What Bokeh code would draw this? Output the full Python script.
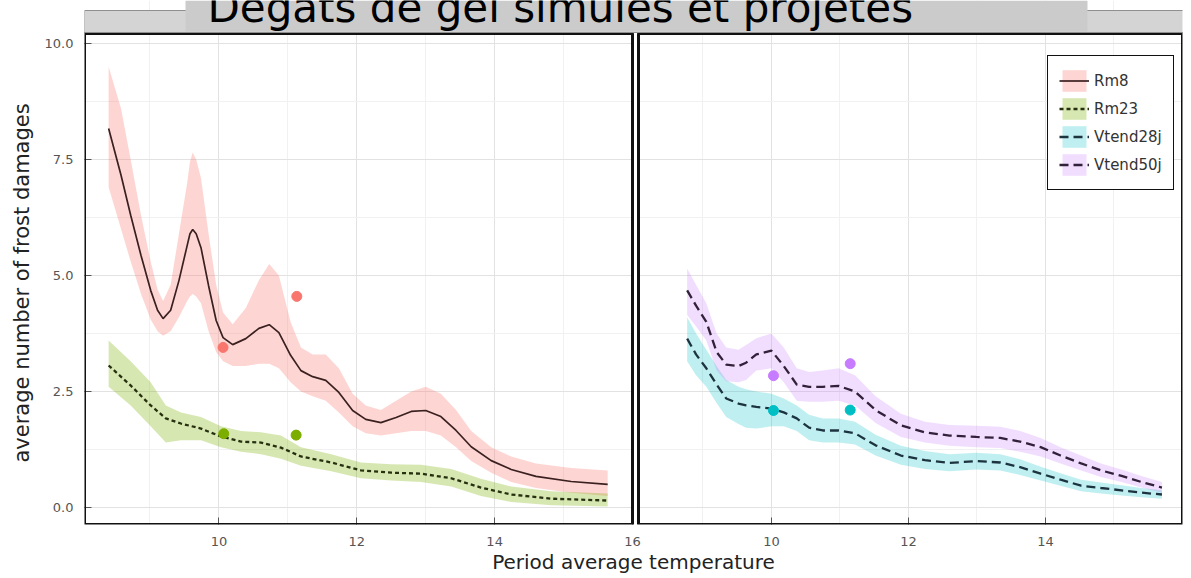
import math
from bokeh.plotting import figure
from bokeh.models import (Range1d, LinearAxis, FixedTicker, Grid, BoxAnnotation, Label,
                          Legend, LegendItem, PrintfTickFormatter, Title)
from bokeh.embed import file_html
from bokeh.resources import INLINE

# ---------------- data ----------------
rm8_t = [8.40, 8.58, 8.72, 8.87, 9.01, 9.11, 9.19, 9.30, 9.42, 9.54, 9.58, 9.62, 9.67, 9.74,
         9.85, 9.96, 10.06, 10.20, 10.39, 10.58, 10.73, 10.87, 11.04, 11.19, 11.36, 11.55,
         11.74, 11.94, 12.13, 12.35, 12.57, 12.79, 13.00, 13.22, 13.44, 13.66, 13.95, 14.24,
         14.60, 15.11, 15.64]
rm8_mean = [8.17, 7.16, 6.30, 5.43, 4.68, 4.25, 4.07, 4.25, 4.89, 5.65, 5.90, 5.99, 5.90, 5.60,
            4.78, 4.03, 3.66, 3.51, 3.64, 3.86, 3.94, 3.77, 3.28, 2.95, 2.82, 2.74,
            2.48, 2.09, 1.90, 1.83, 1.94, 2.07, 2.09, 1.96, 1.66, 1.31, 1.01, 0.82,
            0.67, 0.56, 0.50]
rm8_upper = [9.50, 8.60, 7.50, 6.30, 5.30, 4.70, 4.45, 4.80, 5.90, 7.00, 7.45, 7.65, 7.50, 7.10,
             5.90, 4.80, 4.20, 3.95, 4.30, 4.90, 5.25, 5.00, 4.00, 3.45, 3.30, 3.30,
             3.00, 2.45, 2.20, 2.10, 2.30, 2.50, 2.60, 2.45, 2.10, 1.65, 1.30, 1.10,
             0.95, 0.85, 0.80]
rm8_lower = [6.90, 6.00, 5.30, 4.60, 4.05, 3.80, 3.70, 3.80, 4.10, 4.45, 4.55, 4.60, 4.55, 4.40,
             3.80, 3.35, 3.15, 3.05, 3.05, 3.10, 3.10, 3.00, 2.70, 2.50, 2.40, 2.30,
             2.05, 1.75, 1.60, 1.55, 1.60, 1.65, 1.65, 1.55, 1.30, 1.00, 0.75, 0.55,
             0.42, 0.32, 0.25]

rm23_t = [8.40, 8.72, 9.01, 9.23, 9.45, 9.74, 10.03, 10.32, 10.61, 10.90, 11.19, 11.63,
          12.06, 12.50, 12.93, 13.37, 13.80, 14.24, 14.82, 15.64]
rm23_mean = [3.06, 2.63, 2.20, 1.92, 1.81, 1.70, 1.53, 1.42, 1.40, 1.29, 1.10, 0.97,
             0.80, 0.75, 0.73, 0.63, 0.43, 0.28, 0.19, 0.15]
rm23_upper = [3.60, 3.15, 2.70, 2.20, 2.05, 1.95, 1.75, 1.65, 1.62, 1.55, 1.30, 1.15,
              0.97, 0.93, 0.92, 0.83, 0.62, 0.45, 0.35, 0.30]
rm23_lower = [2.60, 2.20, 1.75, 1.40, 1.45, 1.45, 1.30, 1.20, 1.15, 1.05, 0.90, 0.78,
              0.63, 0.58, 0.55, 0.45, 0.25, 0.12, 0.05, 0.02]

v_t = [8.77, 8.90, 9.05, 9.20, 9.34, 9.52, 9.63, 9.78, 10.00, 10.18, 10.37, 10.55, 10.75,
       10.98, 11.22, 11.52, 11.89, 12.24, 12.60, 12.99, 13.34, 13.63, 13.93, 14.22, 14.52,
       14.81, 15.11, 15.40, 15.70]
v28_mean = [3.64, 3.30, 3.00, 2.65, 2.35, 2.24, 2.20, 2.17, 2.13, 2.05, 1.92, 1.72, 1.66,
            1.66, 1.60, 1.34, 1.12, 1.02, 0.96, 1.00, 0.97, 0.87, 0.73, 0.60, 0.47,
            0.42, 0.37, 0.32, 0.28]
v28_upper = [4.10, 3.75, 3.40, 3.05, 2.75, 2.60, 2.55, 2.50, 2.45, 2.35, 2.20, 2.00, 1.92,
             1.92, 1.85, 1.57, 1.33, 1.22, 1.15, 1.18, 1.15, 1.04, 0.88, 0.74, 0.60,
             0.54, 0.48, 0.42, 0.37]
v28_lower = [3.15, 2.85, 2.60, 2.25, 1.95, 1.80, 1.72, 1.70, 1.75, 1.75, 1.65, 1.45, 1.40,
             1.40, 1.36, 1.12, 0.92, 0.83, 0.78, 0.82, 0.80, 0.70, 0.58, 0.47, 0.35,
             0.30, 0.26, 0.22, 0.19]
v50_mean = [4.68, 4.35, 4.00, 3.35, 3.08, 3.05, 3.12, 3.30, 3.38, 3.05, 2.65, 2.60, 2.60,
            2.62, 2.50, 2.10, 1.77, 1.62, 1.55, 1.52, 1.50, 1.42, 1.30, 1.12, 0.95,
            0.80, 0.68, 0.55, 0.43]
v50_upper = [5.15, 4.80, 4.40, 3.75, 3.45, 3.40, 3.50, 3.65, 3.75, 3.45, 3.00, 2.92, 2.95,
             3.00, 2.85, 2.40, 2.02, 1.85, 1.78, 1.76, 1.74, 1.65, 1.50, 1.30, 1.12,
             0.95, 0.82, 0.68, 0.55]
v50_lower = [4.15, 3.90, 3.60, 2.95, 2.72, 2.70, 2.75, 2.95, 3.00, 2.70, 2.30, 2.28, 2.28,
             2.30, 2.20, 1.82, 1.52, 1.40, 1.33, 1.30, 1.28, 1.20, 1.10, 0.95, 0.80,
             0.66, 0.55, 0.43, 0.32]

rm8_obs_t = [10.06, 11.13]
rm8_obs = [3.45, 4.55]
rm23_obs_t = [10.07, 11.12]
rm23_obs = [1.59, 1.56]
v28_obs_t = [10.03, 11.15]
v28_obs = [2.09, 2.10]
v50_obs_t = [10.03, 11.15]
v50_obs = [2.84, 3.10]

x_tick_values = [10, 12, 14, 16]
y_tick_values = [0.0, 2.5, 5.0, 7.5, 10.0]
y_minor_values = [1.25, 3.75, 6.25, 8.75]
x_minor_values = [9, 11, 13, 15]

series_names = ["Rm8", "Rm23", "Vtend28j", "Vtend50j"]
title_text = "Dégats de gel simulés et projetés"
x_label = "Period average temperature"
y_label = "average number of frost damages"

# ---------------- layout (picture pixels) ----------------
W, H = 1191, 578
FL, FR, FT, FB = 84, 1182, 0, 524     # frame box
LP = (84, 632)                         # left panel
RP = (638, 1182)                       # right panel
PT = 33                                # panel top
LX = (8.05, 16.0)
RX = (8.06, 16.0)
Y0_PX, Y10_PX = 507, 43

kL = (LP[1] - LP[0]) / (LX[1] - LX[0])
lx0 = LX[0] - (LP[0] - FL) / kL
lx1 = lx0 + (FR - FL) / kL
kR = (RP[1] - RP[0]) / (RX[1] - RX[0])
rx0 = RX[0] - (RP[0] - FL) / kR
rx1 = rx0 + (FR - FL) / kR
kY = (Y0_PX - Y10_PX) / 10.0
y_bot = -(FB - Y0_PX) / kY
y_top = (Y0_PX - FT) / kY

FONT = "DejaVu Sans"

p = figure(width=W, height=H, x_range=Range1d(lx0, lx1), y_range=Range1d(y_bot, y_top),
           output_backend="svg", toolbar_location=None, title=None,
           x_axis_location=None, y_axis_location=None,
           min_border_left=FL, min_border_right=W - FR,
           min_border_top=FT, min_border_bottom=H - FB,
           background_fill_color="white", border_fill_color="white")
p.outline_line_color = None
p.center = [r for r in p.center if not isinstance(r, Grid)]

p.extra_x_ranges = {"right": Range1d(rx0, rx1), "px": Range1d(FL, FR)}
p.extra_y_ranges = {"px": Range1d(FB, FT)}

# grids
MAJ, MIN = "#e2e2e2", "#f1f1f1"
p.add_layout(Grid(dimension=0, ticker=FixedTicker(ticks=x_tick_values[:-1], minor_ticks=x_minor_values),
                  grid_line_color=MAJ, minor_grid_line_color=MIN))
p.add_layout(Grid(dimension=0, ticker=FixedTicker(ticks=x_tick_values[:-1], minor_ticks=x_minor_values),
                  grid_line_color=MAJ, minor_grid_line_color=MIN, x_range_name="right"))
p.add_layout(Grid(dimension=1, ticker=FixedTicker(ticks=y_tick_values, minor_ticks=y_minor_values),
                  grid_line_color=MAJ, minor_grid_line_color=MIN))

# ribbons, lines, points
cols = ["#f8766d", "#7cae00", "#00bfc4", "#c77cff"]
line_cols = ["#3a2020", "#26300f", "#1c3340", "#33203a"]

b1 = p.varea(x=rm8_t, y1=rm8_lower, y2=rm8_upper, fill_color=cols[0], fill_alpha=0.30)
b2 = p.varea(x=rm23_t, y1=rm23_lower, y2=rm23_upper, fill_color=cols[1], fill_alpha=0.30)
b3 = p.varea(x=v_t, y1=v28_lower, y2=v28_upper, fill_color=cols[2], fill_alpha=0.25, x_range_name="right")
b4 = p.varea(x=v_t, y1=v50_lower, y2=v50_upper, fill_color=cols[3], fill_alpha=0.25, x_range_name="right")

l1 = p.line(rm8_t, rm8_mean, line_color=line_cols[0], line_width=1.7)
l2 = p.line(rm23_t, rm23_mean, line_color=line_cols[1], line_width=2.3, line_dash="4 3")
l3 = p.line(v_t, v28_mean, line_color=line_cols[2], line_width=2.3, line_dash="9 5", x_range_name="right")
l4 = p.line(v_t, v50_mean, line_color=line_cols[3], line_width=2.3, line_dash="9 5", x_range_name="right")

p.scatter(rm8_obs_t, rm8_obs, size=10, color=cols[0])
p.scatter(rm23_obs_t, rm23_obs, size=10, color=cols[1])
p.scatter(v28_obs_t, v28_obs, size=10, color=cols[2], x_range_name="right")
p.scatter(v50_obs_t, v50_obs, size=10, color=cols[3], x_range_name="right")

# axes
yaxis = LinearAxis(ticker=FixedTicker(ticks=y_tick_values), formatter=PrintfTickFormatter(format="%.1f"),
                   axis_line_color=None, major_tick_in=7, major_tick_out=0,
                   minor_tick_line_color=None, major_tick_line_color="#555555",
                   major_label_text_font=FONT, major_label_text_font_size="13px",
                   major_label_text_color="#555555", major_label_standoff=11)
p.add_layout(yaxis, "left")
p.add_layout(Title(text=y_label, align="left", offset=62, standoff=15,
                   text_font=FONT, text_font_size="21px", text_font_style="normal",
                   text_color="#222222"), "left")

right_in_left = []
for v in x_tick_values:
    px = FL + (v - rx0) * kR
    right_in_left.append(round(lx0 + (px - FL) / kL, 6))
all_ticks = [float(v) for v in x_tick_values] + right_in_left
overrides = {t: str(v) for t, v in zip(all_ticks, x_tick_values + x_tick_values)}
xaxis = LinearAxis(ticker=FixedTicker(ticks=all_ticks), major_label_overrides=overrides,
                   axis_line_color=None, major_tick_in=7, major_tick_out=0,
                   minor_tick_line_color=None, major_tick_line_color="#555555",
                   major_label_text_font=FONT, major_label_text_font_size="13px",
                   major_label_text_color="#555555", major_label_standoff=12,
                   axis_label=x_label, axis_label_text_font=FONT, axis_label_text_font_size="20px",
                   axis_label_text_font_style="normal", axis_label_text_color="#222222",
                   axis_label_standoff=1)
p.add_layout(xaxis, "below")

# legend
legend = Legend(items=[LegendItem(label=series_names[0], renderers=[b1, l1]),
                       LegendItem(label=series_names[1], renderers=[b2, l2]),
                       LegendItem(label=series_names[2], renderers=[b3, l3]),
                       LegendItem(label=series_names[3], renderers=[b4, l4])],
                location=(1047 - FL, FB - 190), margin=0, padding=11, spacing=1,
                glyph_width=30, glyph_height=27, label_standoff=5,
                label_text_font=FONT, label_text_font_size="15px", label_text_color="#333333",
                border_line_color="#111111", border_line_width=1.5, border_line_alpha=1.0,
                background_fill_color="white", background_fill_alpha=1.0)
p.add_layout(legend)

# decorations (picture-pixel coordinates)
def box(l, r, t, b, **kw):
    p.add_layout(BoxAnnotation(left=l, right=r, top=t, bottom=b, x_range_name="px",
                               y_range_name="px", **kw))

box(633.5, 636.5, PT, FB, fill_color="white", fill_alpha=1, line_color=None)
box(LP[0], LP[1], PT, FB, fill_alpha=0, line_color="#111111", line_alpha=1, line_width=3)
box(RP[0], RP[1], PT, FB, fill_alpha=0, line_color="#111111", line_alpha=1, line_width=3)
box(FL, 1186, 10, PT - 1, fill_color="#d4d4d4", fill_alpha=1, line_color="#8f8f8f", line_alpha=1, line_width=1)
box(185, 1087, 0, 31, fill_color="#cbcbcb", fill_alpha=1, line_color=None)

p.add_layout(Label(x=207, y=7, x_range_name="px", y_range_name="px", text=title_text,
                   text_font=FONT, text_font_size="42px", text_color="black",
                   text_align="left", text_baseline="alphabetic"))

open("out.html", "w").write(file_html(p, INLINE))
